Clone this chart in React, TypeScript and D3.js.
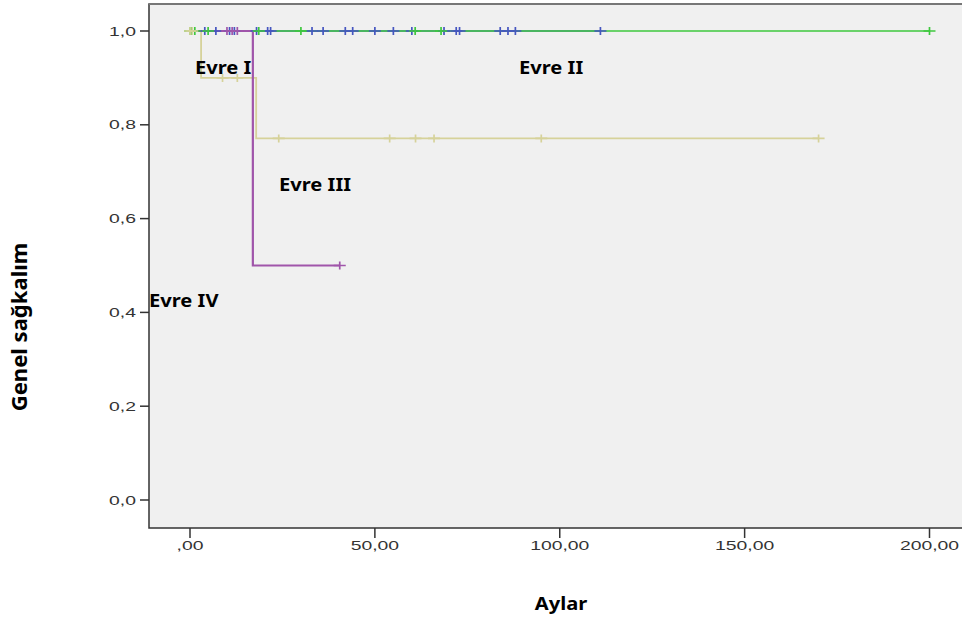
import React, { useEffect, useRef } from 'react'
import * as d3 from 'd3'

// survival steps (time in months, survival after the event) and censored times
const blueEvents: [number, number][] = []
const blueCensored = [4, 7, 10.7, 12, 18, 21, 21.8, 33, 36, 42, 44, 50, 55, 60, 68.7, 72, 72.9, 83.9, 86, 88, 111]

const greenEvents: [number, number][] = []
const greenCensored = [0, 0.5, 1.3, 4.9, 18.6, 30, 60.9, 67.9, 200]

const yellowEvents: [number, number][] = [[3, 0.9], [17.9, 0.771]]
const yellowCensored = [0, 0.6, 8.8, 12.8, 24, 54, 61, 66, 95, 170]

const purpleEvents: [number, number][] = [[17, 0.5]]
const purpleCensored = [10, 11.4, 12.8, 40.5]

const xTicks = [0, 50, 100, 150, 200]
const xTickLabels = [',00', '50,00', '100,00', '150,00', '200,00']
const yTicks = [0, 0.2, 0.4, 0.6, 0.8, 1.0]
const yTickLabels = ['0,0', '0,2', '0,4', '0,6', '0,8', '1,0']

const groupLabels = ['Evre I', 'Evre II', 'Evre III', 'Evre IV']

const series = [
  { name: 'blue', color: '#4656c0', width: 1.5, events: blueEvents, censored: blueCensored },
  { name: 'green', color: '#3ec83e', width: 1.5, events: greenEvents, censored: greenCensored },
  { name: 'yellow', color: '#d6d29a', width: 1.8, events: yellowEvents, censored: yellowCensored },
  { name: 'purple', color: '#a055aa', width: 2.2, events: purpleEvents, censored: purpleCensored },
]

function survivalAt(events: [number, number][], t: number) {
  let s = 1
  events.forEach(e => { if (e[0] <= t) s = e[1] })
  return s
}

function KaplanMeier() {
  const chartRef = useRef<SVGSVGElement>(null)

  useEffect(() => {
    const svg = d3.select(chartRef.current)
    svg.selectAll('*').remove()

    const frame = { left: 149, right: 962, top: 4, bottom: 528 }
    const x = d3.scaleLinear().domain([0, 200]).range([190, 929.5])
    const y = d3.scaleLinear().domain([0, 1]).range([500, 31])

    svg.append('rect')
      .attr('x', frame.left).attr('y', frame.top)
      .attr('width', frame.right - frame.left).attr('height', frame.bottom - frame.top)
      .attr('fill', '#f0f0f0')

    const line = d3.line<[number, number]>()
      .x(d => x(d[0])).y(d => y(d[1]))
      .curve(d3.curveStepAfter)

    // curves
    series.forEach(s => {
      const end = Math.max(d3.max(s.censored) ?? 0, d3.max(s.events, e => e[0]) ?? 0)
      const pts: [number, number][] = [[0, 1], ...s.events, [end, survivalAt(s.events, end)]]
      svg.append('path')
        .attr('d', line(pts))
        .attr('fill', 'none')
        .attr('stroke', s.color)
        .attr('stroke-width', s.width)
    })

    // censor marks
    series.forEach(s => {
      svg.append('g')
        .attr('stroke', s.color)
        .attr('stroke-width', 1.7)
        .attr('fill', 'none')
        .selectAll('path')
        .data(s.censored)
        .join('path')
        .attr('d', t => {
          const cx = x(t), cy = y(survivalAt(s.events, t))
          return `M${cx - 6},${cy}H${cx + 6}M${cx},${cy - 4}V${cy + 4}`
        })
    })

    // frame
    svg.append('path')
      .attr('d', `M${frame.right},${frame.top}H${frame.left}V${frame.bottom}H${frame.right}`)
      .attr('fill', 'none')
      .attr('stroke', '#333')
      .attr('stroke-width', 1.5)
    svg.append('line')
      .attr('x1', frame.left).attr('x2', frame.right)
      .attr('y1', frame.top).attr('y2', frame.top)
      .attr('stroke', '#777').attr('stroke-width', 2)

    // y axis
    const yAxis = svg.append('g')
    yTicks.forEach((v, i) => {
      yAxis.append('line')
        .attr('x1', frame.left - 9).attr('x2', frame.left)
        .attr('y1', y(v)).attr('y2', y(v))
        .attr('stroke', '#333').attr('stroke-width', 1.5)
      yAxis.append('text')
        .attr('transform', `translate(${frame.left - 13},${y(v) + 4.5}) scale(1.55,1)`)
        .attr('text-anchor', 'end')
        .attr('font-family', 'Liberation Sans, Arial, sans-serif')
        .attr('font-size', 12.5)
        .attr('fill', '#333')
        .text(yTickLabels[i])
    })

    // x axis
    const xAxis = svg.append('g')
    xTicks.forEach((v, i) => {
      xAxis.append('line')
        .attr('x1', x(v)).attr('x2', x(v))
        .attr('y1', frame.bottom).attr('y2', frame.bottom + 10)
        .attr('stroke', '#333').attr('stroke-width', 1.5)
      xAxis.append('text')
        .attr('transform', `translate(${x(v)},${frame.bottom + 22}) scale(1.55,1)`)
        .attr('text-anchor', 'middle')
        .attr('font-family', 'Liberation Sans, Arial, sans-serif')
        .attr('font-size', 12.5)
        .attr('fill', '#333')
        .text(xTickLabels[i])
    })

    const bold = (sel: d3.Selection<SVGTextElement, unknown, null, undefined>) =>
      sel.attr('font-family', 'Noto Sans, Open Sans, sans-serif')
        .attr('font-weight', 'bold')
        .attr('font-size', 17.5)
        .attr('fill', '#000')

    // group labels placed next to their curves
    const labelPos: [number, number][] = [[195, 74], [519, 74], [279, 191], [149, 307]]
    groupLabels.forEach((lab, i) => {
      svg.append('text')
        .attr('transform', `translate(${labelPos[i][0]},${labelPos[i][1]}) scale(1.15,1)`)
        .call(bold)
        .text(lab)
    })

    svg.append('text')
      .attr('transform', 'translate(561,610) scale(1.15,1)')
      .attr('text-anchor', 'middle')
      .call(bold)
      .text('Aylar')

    svg.append('text')
      .attr('transform', 'translate(27,327) rotate(-90) scale(1.16,1.15)')
      .attr('text-anchor', 'middle')
      .call(bold)
      .attr('font-size', 19)
      .text('Genel sağkalım')
  }, [])

  return (
    <svg ref={chartRef} width={963} height={623}
      style={{ position: 'absolute', left: 0, top: 0, background: '#fff' }} />
  )
}

export default function App() {
  return <KaplanMeier />
}
